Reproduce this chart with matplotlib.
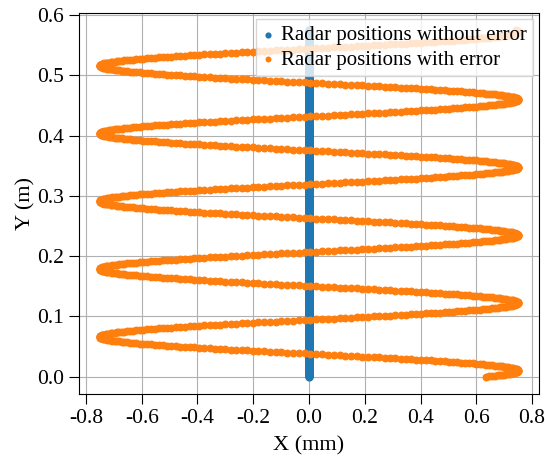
import matplotlib as mpl

mpl.use("Agg")

import matplotlib.pyplot as plt
import numpy as np

# values
Y_START = 0.0          # m, first radar position
Y_END = 0.575          # m, last radar position
Y_STEP = 0.0005        # m, spacing between positions
ERR_AMPLITUDE = 0.75   # mm, swing of the position error
ERR_PERIOD = 0.1125    # m, distance between two right-hand peaks
ERR_FIRST_PEAK = 0.01  # m, y of the first right-hand peak

X_TICKS = [-0.8, -0.6, -0.4, -0.2, 0.0, 0.2, 0.4, 0.6, 0.8]
Y_TICKS = [0.0, 0.1, 0.2, 0.3, 0.4, 0.5, 0.6]

plt.rcParams["font.family"] = ["Liberation Serif", "DejaVu Serif"]
plt.rcParams["font.size"] = 16
plt.rcParams["axes.unicode_minus"] = False

y_pos = np.arange(Y_START, Y_END + Y_STEP / 2, Y_STEP)
x_ideal = np.zeros_like(y_pos)
x_err = ERR_AMPLITUDE * np.cos(2 * np.pi * (y_pos - ERR_FIRST_PEAK) / ERR_PERIOD)

fig = plt.figure(figsize=(5.45, 4.66), dpi=100)
ax = fig.add_axes([79 / 545, 1 - 394 / 466, 460 / 545, 381 / 466])

ax.scatter(x_ideal, y_pos, s=24, color="#1f77b4", label="Radar positions without error", zorder=2)
ax.scatter(x_err, y_pos, s=22, color="#ff7f0e", label="Radar positions with error", zorder=3)

ax.set_xticks(X_TICKS)
ax.set_yticks(Y_TICKS)
ax.set_xticklabels([f"{t:.1f}" for t in X_TICKS])
ax.set_yticklabels([f"{t:.1f}" for t in Y_TICKS])
ax.tick_params(axis="both", length=7, width=0.8, pad=4, labelsize=15.5)
ax.grid(True, color="#b0b0b0", linewidth=0.8)
ax.set_axisbelow(True)
ax.set_xlabel("X (mm)", labelpad=6)
ax.set_ylabel("Y (m)", labelpad=1)

ax.legend(loc="upper right", scatterpoints=1, markerscale=0.7, handlelength=0.6,
          handletextpad=0.3, borderpad=0.3, labelspacing=0.25, borderaxespad=0.3,
          fancybox=False, framealpha=0.8, edgecolor="#cccccc", fontsize=15)

fig.savefig("out.png", dpi=100, facecolor="white")
